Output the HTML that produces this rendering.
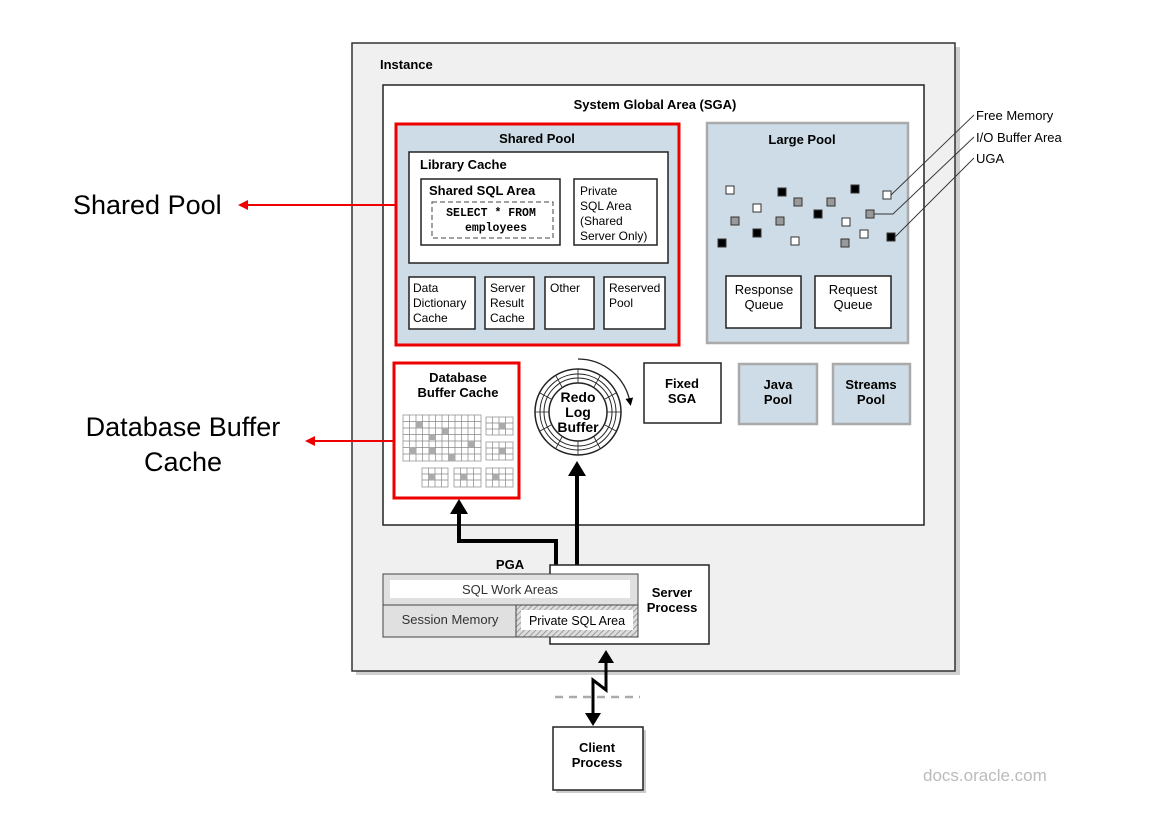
<!DOCTYPE html>
<html><head><meta charset="utf-8"><style>
body{margin:0;background:#fff}
svg text{font-family:"Liberation Sans",sans-serif}
</style></head><body>
<svg width="1158" height="818" viewBox="0 0 1158 818" xmlns="http://www.w3.org/2000/svg">
<defs>
<pattern id="hatch" width="4" height="4" patternUnits="userSpaceOnUse" patternTransform="rotate(45)"><rect width="4" height="4" fill="#ddd"/><line x1="0" y1="0" x2="0" y2="4" stroke="#888" stroke-width="1.5"/></pattern>
<marker id="ah" markerWidth="6" markerHeight="6" refX="3" refY="3" orient="auto"><path d="M0,0 L6,3 L0,6 z" fill="#000"/></marker>
</defs>
<!-- Instance -->
<rect x="356" y="47" width="604" height="628" fill="#cfcfcf"/>
<rect x="352" y="43" width="603" height="628" fill="#f0f0f0" stroke="#333" stroke-width="1.5"/>
<text x="380" y="69" font-size="13" font-weight="bold">Instance</text>
<!-- SGA -->
<rect x="383" y="85" width="541" height="440" fill="#fff" stroke="#222" stroke-width="1.5"/>
<text x="655" y="109" font-size="13" font-weight="bold" text-anchor="middle">System Global Area (SGA)</text>
<!-- Shared pool -->
<rect x="396" y="124" width="283" height="221" fill="#cddce6" stroke="#e00" stroke-width="3"/>
<text x="537" y="143" font-size="13" font-weight="bold" text-anchor="middle">Shared Pool</text>
<rect x="409" y="152" width="259" height="111" fill="#fff" stroke="#222" stroke-width="1.5"/>
<text x="420" y="169" font-size="13" font-weight="bold">Library Cache</text>
<rect x="421" y="179" width="139" height="66" fill="#fff" stroke="#222" stroke-width="1.5"/>
<text x="429" y="195" font-size="13" font-weight="bold">Shared SQL Area</text>
<rect x="432" y="202" width="121" height="36" fill="none" stroke="#444" stroke-dasharray="5,3"/>
<text x="491" y="216" font-size="11.5" font-weight="bold" font-family="Liberation Mono" text-anchor="middle" style="font-family:'Liberation Mono',monospace">SELECT * FROM</text>
<text x="496" y="231" font-size="11.5" font-weight="bold" text-anchor="middle" style="font-family:'Liberation Mono',monospace">employees</text>
<rect x="574" y="179" width="83" height="66" fill="#fff" stroke="#222" stroke-width="1.5"/>
<g font-size="12"><text x="580" y="195">Private</text><text x="580" y="210">SQL Area</text><text x="580" y="225">(Shared</text><text x="580" y="240">Server Only)</text></g>
<g fill="#fff" stroke="#222" stroke-width="1.5">
<rect x="409" y="277" width="66" height="52"/><rect x="485" y="277" width="49" height="52"/><rect x="545" y="277" width="49" height="52"/><rect x="604" y="277" width="61" height="52"/></g>
<g font-size="12"><text x="413" y="292">Data</text><text x="413" y="307">Dictionary</text><text x="413" y="322">Cache</text>
<text x="490" y="292">Server</text><text x="490" y="307">Result</text><text x="490" y="322">Cache</text>
<text x="550" y="292">Other</text><text x="609" y="292">Reserved</text><text x="609" y="307">Pool</text></g>
<!-- Large pool -->
<rect x="707" y="123" width="201" height="220" fill="#cddce6" stroke="#aaa" stroke-width="2.5"/>
<text x="802" y="144" font-size="13" font-weight="bold" text-anchor="middle">Large Pool</text>
<g stroke="#333" stroke-width="1">
<g fill="#fff"><rect x="726" y="186" width="8" height="8"/><rect x="753" y="204" width="8" height="8"/><rect x="791" y="237" width="8" height="8"/><rect x="842" y="218" width="8" height="8"/><rect x="883" y="191" width="8" height="8"/><rect x="860" y="230" width="8" height="8"/></g>
<g fill="#000"><rect x="778" y="188" width="8" height="8"/><rect x="814" y="210" width="8" height="8"/><rect x="851" y="185" width="8" height="8"/><rect x="753" y="229" width="8" height="8"/><rect x="718" y="239" width="8" height="8"/><rect x="887" y="233" width="8" height="8"/></g>
<g fill="#999"><rect x="794" y="198" width="8" height="8"/><rect x="827" y="198" width="8" height="8"/><rect x="731" y="217" width="8" height="8"/><rect x="776" y="217" width="8" height="8"/><rect x="866" y="210" width="8" height="8"/><rect x="841" y="239" width="8" height="8"/></g>
</g>
<g stroke="#333" fill="none" stroke-width="0.9">
<path d="M891,195 L974,115"/><path d="M874,214 L893,214 L974,137"/><path d="M895,237 L974,158"/></g>
<g font-size="13"><text x="976" y="120">Free Memory</text><text x="976" y="142">I/O Buffer Area</text><text x="976" y="163">UGA</text></g>
<rect x="726" y="276" width="75" height="52" fill="#fff" stroke="#222" stroke-width="1.5"/>
<rect x="815" y="276" width="76" height="52" fill="#fff" stroke="#222" stroke-width="1.5"/>
<g font-size="13" text-anchor="middle"><text x="764" y="294">Response</text><text x="764" y="309">Queue</text><text x="853" y="294">Request</text><text x="853" y="309">Queue</text></g>
<!-- DB buffer cache -->
<rect x="394" y="363" width="125" height="135" fill="#fff" stroke="#e00" stroke-width="3"/>
<g font-size="13" font-weight="bold" text-anchor="middle"><text x="458" y="382">Database</text><text x="458" y="397">Buffer Cache</text></g>
<g stroke="#888" stroke-width="0.7" fill="none">
<rect x="403" y="415" width="78" height="46"/>
<path d="M409.5,415v46M416,415v46M422.5,415v46M429,415v46M435.5,415v46M442,415v46M448.5,415v46M455,415v46M461.5,415v46M468,415v46M474.5,415v46M403,421.5h78M403,428h78M403,434.5h78M403,441h78M403,447.5h78M403,454h78"/>
<rect x="486" y="417" width="27" height="18"/><path d="M492.5,417v18M499,417v18M505.5,417v18M486,423h27M486,429h27"/>
<rect x="486" y="442" width="27" height="18"/><path d="M492.5,442v18M499,442v18M505.5,442v18M486,448h27M486,454h27"/>
<rect x="422" y="468" width="26" height="19"/><path d="M428.5,468v19M435,468v19M441.5,468v19M422,474h26M422,480h26"/>
<rect x="454" y="468" width="27" height="19"/><path d="M460.5,468v19M467,468v19M473.5,468v19M454,474h27M454,480h27"/>
<rect x="486" y="468" width="27" height="19"/><path d="M492.5,468v19M499,468v19M505.5,468v19M486,474h27M486,480h27"/>
</g>
<g fill="#aaa"><rect x="416" y="421" width="6" height="7"/><rect x="442" y="428" width="6" height="6"/><rect x="409" y="447" width="7" height="7"/><rect x="429" y="447" width="6" height="7"/><rect x="448" y="454" width="7" height="7"/><rect x="468" y="441" width="6" height="6"/><rect x="429" y="434" width="6" height="6"/><rect x="499" y="423" width="6" height="6"/><rect x="499" y="448" width="6" height="6"/><rect x="429" y="474" width="6" height="6"/><rect x="461" y="474" width="6" height="6"/><rect x="493" y="474" width="6" height="6"/></g>
<!-- Redo -->
<g fill="none" stroke="#222">
<circle cx="578" cy="412" r="43" stroke-width="1.5"/><circle cx="578" cy="412" r="38" stroke-width="1"/><circle cx="578" cy="412" r="34" stroke-width="1"/><circle cx="578" cy="412" r="29" stroke-width="1.5"/>
<path d="M578,369v14M600,376l-6,11M616,393l-11,6M621,412h-14M578,455v-14M556,448l6,-11M540,431l11,-6M535,412h14M556,376l6,11M540,393l11,6M616,431l-11,-6M600,448l-6,-11" stroke-width="0.8"/>
<path d="M578,359 A53,53 0 0 1 630,402" stroke-width="1.3" marker-end="url(#ah)"/>
</g>
<g font-size="14" font-weight="bold" text-anchor="middle"><text x="578" y="402">Redo</text><text x="578" y="417">Log</text><text x="578" y="432">Buffer</text></g>
<!-- Fixed SGA etc -->
<rect x="644" y="363" width="77" height="60" fill="#fff" stroke="#222" stroke-width="1.5"/>
<g font-size="13" font-weight="bold" text-anchor="middle"><text x="682" y="388">Fixed</text><text x="682" y="403">SGA</text></g>
<rect x="739" y="364" width="78" height="60" fill="#cddce6" stroke="#aaa" stroke-width="2.5"/>
<rect x="833" y="364" width="77" height="60" fill="#cddce6" stroke="#aaa" stroke-width="2.5"/>
<g font-size="13" font-weight="bold" text-anchor="middle"><text x="778" y="389">Java</text><text x="778" y="404">Pool</text><text x="871" y="389">Streams</text><text x="871" y="404">Pool</text></g>
<!-- Arrows -->
<path d="M556,568 V541 H459 V512" fill="none" stroke="#000" stroke-width="4"/>
<path d="M450,514 L459,499 L468,514z" fill="#000"/>
<path d="M577,568 V474" fill="none" stroke="#000" stroke-width="4"/>
<path d="M568,476 L577,461 L586,476z" fill="#000"/>
<!-- Server process & PGA -->
<rect x="550" y="565" width="159" height="79" fill="#fff" stroke="#222" stroke-width="1.5"/>
<g font-size="13" font-weight="bold" text-anchor="middle"><text x="672" y="597">Server</text><text x="672" y="612">Process</text></g>
<text x="510" y="569" font-size="13" font-weight="bold" text-anchor="middle">PGA</text>
<rect x="383" y="574" width="255" height="31" fill="#e0e0e0" stroke="#444" stroke-width="1"/>
<rect x="390" y="580" width="240" height="18" fill="#fff"/>
<rect x="383" y="605" width="133" height="32" fill="#e0e0e0" stroke="#444" stroke-width="1"/>
<rect x="516" y="605" width="122" height="32" fill="url(#hatch)" stroke="#444" stroke-width="1"/>
<rect x="521" y="610" width="112" height="20" fill="#fff"/>
<text x="510" y="594" font-size="13" text-anchor="middle" fill="#333">SQL Work Areas</text>
<text x="450" y="624" font-size="13" text-anchor="middle" fill="#333">Session Memory</text>
<text x="577" y="625" font-size="12.5" text-anchor="middle">Private SQL Area</text>
<!-- Client -->
<line x1="555" y1="697" x2="640" y2="697" stroke="#aaa" stroke-width="2.5" stroke-dasharray="8,6"/>
<path d="M606,658 V690 L593,680 V716" fill="none" stroke="#000" stroke-width="3"/>
<path d="M598,663 L606,650 L614,663z M585,713 L593,726 L601,713z" fill="#000"/>
<rect x="556" y="730" width="90" height="63" fill="#ccc"/>
<rect x="553" y="727" width="90" height="63" fill="#fff" stroke="#222" stroke-width="1.5"/>
<g font-size="13" font-weight="bold" text-anchor="middle"><text x="597" y="752">Client</text><text x="597" y="767">Process</text></g>
<text x="923" y="781" font-size="17" fill="#bbb">docs.oracle.com</text>
<!-- Left labels -->
<text x="73" y="214" font-size="27">Shared Pool</text>
<line x1="396" y1="205" x2="246" y2="205" stroke="#e00" stroke-width="2"/>
<path d="M248,200 L238,205 L248,210z" fill="#e00"/>
<text x="183" y="436" font-size="27" text-anchor="middle">Database Buffer</text>
<text x="183" y="471" font-size="27" text-anchor="middle">Cache</text>
<line x1="394" y1="441" x2="313" y2="441" stroke="#e00" stroke-width="2"/>
<path d="M315,436 L305,441 L315,446z" fill="#e00"/>
</svg>
</body></html>
